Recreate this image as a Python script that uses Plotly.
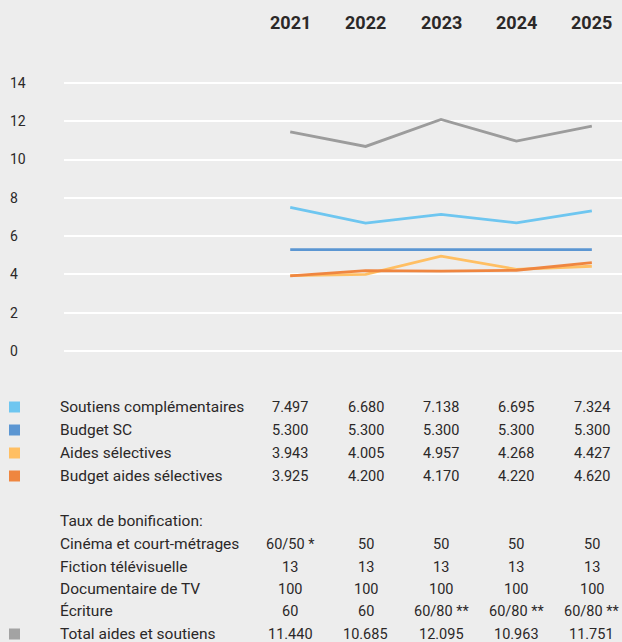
import plotly.graph_objects as go

years = [2021, 2022, 2023, 2024, 2025]
soutiens = [7.497, 6.680, 7.138, 6.695, 7.324]
budget_sc = [5.300, 5.300, 5.300, 5.300, 5.300]
aides_sel = [3.943, 4.005, 4.957, 4.268, 4.427]
budget_aides = [3.925, 4.200, 4.170, 4.220, 4.620]
total = [11.440, 10.685, 12.095, 10.963, 11.751]

cinema = ["60/50 *", "50", "50", "50", "50"]
fiction = ["13", "13", "13", "13", "13"]
documentaire = ["100", "100", "100", "100", "100"]
ecriture = ["60", "60", "60/80 **", "60/80 **", "60/80 **"]

y_ticks = [0, 2, 4, 6, 8, 10, 12, 14]

W, H = 622, 642
BG = "#EDEDED"
TXT = "#2B2828"
FONT = "Roboto"


def py(px):
    # pixel row -> paper y
    return 1 - px / H


series = [
    ("Total aides et soutiens", total, "#9C9C9C"),
    ("Soutiens complémentaires", soutiens, "#6EC6F0"),
    ("Budget SC", budget_sc, "#5B96D2"),
    ("Aides sélectives", aides_sel, "#FFBF63"),
    ("Budget aides sélectives", budget_aides, "#EF8640"),
]

fig = go.Figure()
for name, vals, col in series:
    fig.add_trace(go.Scatter(x=years, y=vals, name=name, mode="lines",
                             line=dict(color=col, width=2.8)))

ann = []
shapes = []

# year headers
for yr in years:
    ann.append(dict(x=yr, xref="x", y=py(22), yref="paper", text=f"<b>{yr}</b>",
                    xanchor="center", yanchor="middle", showarrow=False,
                    font=dict(size=18, color=TXT, family=FONT)))

# table
rows = [
    (407, "Soutiens complémentaires", [f"{v:.3f}" for v in soutiens], "#6EC6F0"),
    (430, "Budget SC", [f"{v:.3f}" for v in budget_sc], "#5B96D2"),
    (453, "Aides sélectives", [f"{v:.3f}" for v in aides_sel], "#FFBF63"),
    (476, "Budget aides sélectives", [f"{v:.3f}" for v in budget_aides], "#EF8640"),
    (521, "Taux de bonification:", None, None),
    (544, "Cinéma et court-métrages", cinema, None),
    (567, "Fiction télévisuelle", fiction, None),
    (589, "Documentaire de TV", documentaire, None),
    (611, "Écriture", ecriture, None),
    (634, "Total aides et soutiens", [f"{v:.3f}" for v in total], "#A3A3A3"),
]
for ypx, label, vals, col in rows:
    ann.append(dict(x=58 / W, xref="paper", y=py(ypx), yref="paper", text=label,
                    xanchor="left", yanchor="middle", showarrow=False,
                    font=dict(size=15.5, color=TXT, family=FONT)))
    if vals:
        for yr, v in zip(years, vals):
            ann.append(dict(x=yr, xref="x", y=py(ypx), yref="paper", text=v,
                            xanchor="center", yanchor="middle", showarrow=False,
                            font=dict(size=14.5, color=TXT, family=FONT)))
    if col:
        shapes.append(dict(type="rect", xref="paper", yref="paper",
                           x0=9 / W, x1=20 / W, y0=py(ypx + 5.5), y1=py(ypx - 5.5),
                           fillcolor=col, line=dict(width=0)))

fig.update_layout(
    width=W, height=H,
    margin=dict(l=0, r=0, t=0, b=0),
    paper_bgcolor=BG, plot_bgcolor=BG,
    showlegend=False,
    font=dict(family=FONT, color=TXT, size=14),
    annotations=ann,
    shapes=shapes,
    xaxis=dict(domain=[64 / W, 1], range=[2018, 2025.4], showgrid=False,
               showticklabels=False, zeroline=False, showline=False),
    yaxis=dict(domain=[py(360.6), py(73.4)], range=[-0.5, 14.5],
               tickvals=y_ticks, showgrid=True, gridcolor="white", gridwidth=2,
               zeroline=False, showline=False, anchor="free", position=6 / W,
               ticklabelposition="inside", tickfont=dict(size=14, color=TXT)),
)

fig.write_html("out.html", config={"displayModeBar": False},
               post_script="document.body.style.margin='0';")
